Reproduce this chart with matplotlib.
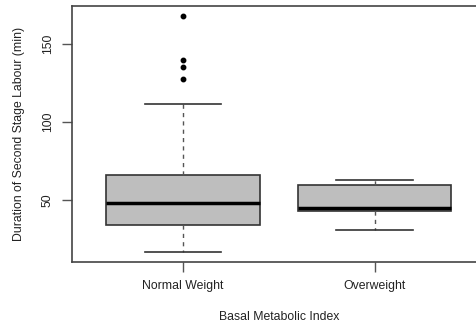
import matplotlib
matplotlib.use("Agg")
import matplotlib.pyplot as plt

plt.rcParams['font.family'] = ['Liberation Sans', 'DejaVu Sans']

# valores (minutos)
grupos = ["Normal Weight", "Overweight"]
minimos = [16.7, 31.2]
q1 = [34.2, 43.1]
medianas = [48.3, 45.1]
q3 = [66.0, 59.8]
maximos = [112.0, 62.8]
outliers = [[128.0, 135.4, 140.0, 168.3], []]

stats = []
for i, nome in enumerate(grupos):
    stats.append({
        "label": nome,
        "whislo": minimos[i],
        "q1": q1[i],
        "med": medianas[i],
        "q3": q3[i],
        "whishi": maximos[i],
        "fliers": outliers[i],
    })

W, H = 476, 329
fig = plt.figure(figsize=(W / 100, H / 100), dpi=100)
# eixo estende alem da borda direita (imagem original recortada)
ax = fig.add_axes([72 / W, (H - 262) / H, (486 - 72) / W, (262 - 6) / H])

ax.bxp(stats, positions=[1, 2], widths=0.8, patch_artist=True,
       boxprops=dict(facecolor="#bebebe", edgecolor="#333333", linewidth=1.2),
       medianprops=dict(color="black", linewidth=2.5),
       whiskerprops=dict(color="#555555", linewidth=1, linestyle=(0, (3, 3))),
       capprops=dict(color="#333333", linewidth=1.2),
       capwidths=0.4,
       flierprops=dict(marker="o", markerfacecolor="black", markeredgecolor="black",
                       markersize=3.2, linestyle="none"))

ax.set_xlim(0.42, 2.58)
ax.set_ylim(10.4, 174.5)
ax.set_yticks([50, 100, 150])
ax.set_yticklabels(["50", "100", "150"], rotation=90, va="center")
ax.set_xticks([1, 2])
ax.set_xticklabels(grupos)

for s in ax.spines.values():
    s.set_color("#444444")
    s.set_linewidth(1.2)
ax.tick_params(axis="both", colors="#555555", length=7, width=1,
               labelsize=8.8, labelcolor="#222222", pad=6)
ax.tick_params(axis="x", pad=6)

ax.set_xlabel("Basal Metabolic Index", fontsize=8.8, color="#222222", labelpad=14)
ax.set_ylabel("Duration of Second Stage Labour (min)", fontsize=8.8,
              color="#222222", labelpad=12)

fig.savefig("out.png", dpi=100)
